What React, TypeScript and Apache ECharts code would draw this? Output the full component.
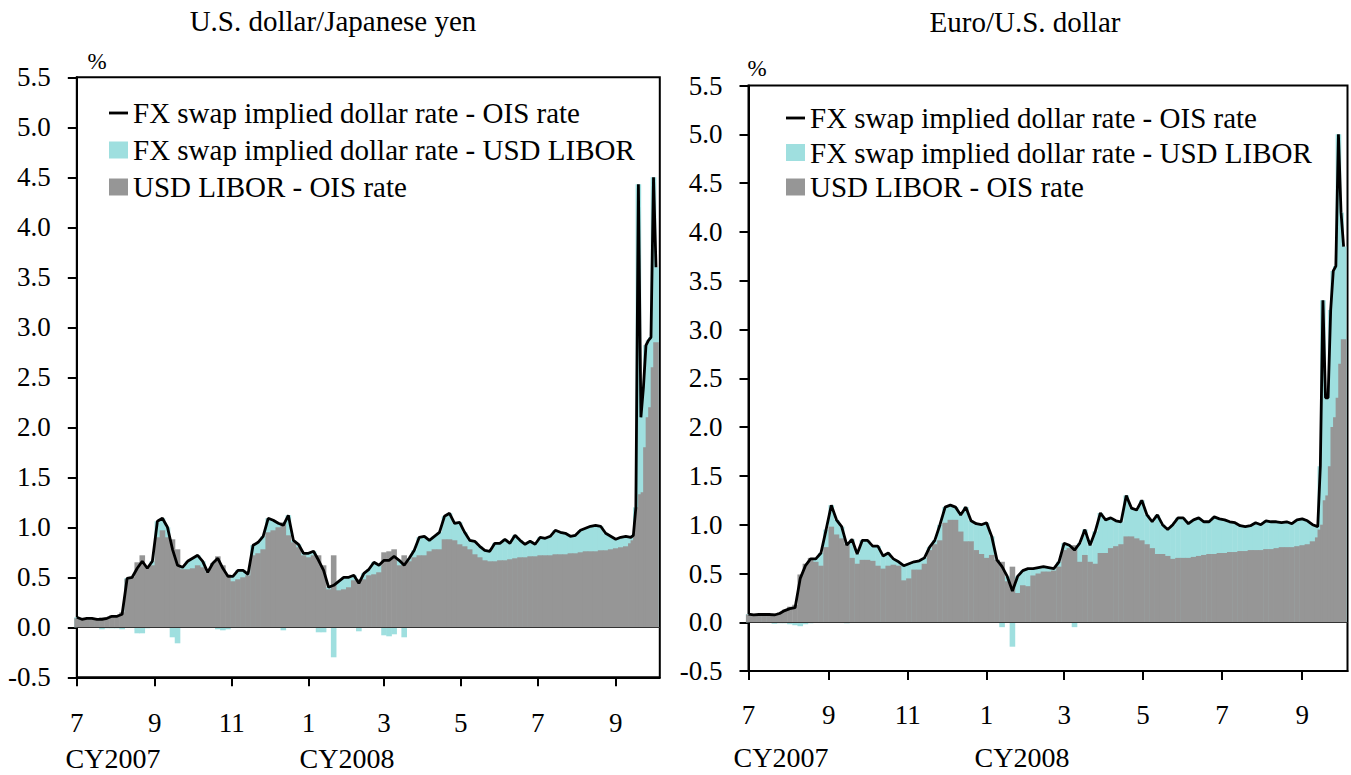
import React, { useEffect, useRef } from "react";
import * as echarts from "echarts";

const FONT = "'Liberation Serif','Times New Roman',serif";
const DAY_MS = 86400000;
const START = Date.UTC(2007, 6, 1);

// Sample dates: days since 1 Jul 2007 (every 4 days, then every 2 days at the end)
const sampleDays: number[] = [
  0, 4, 8, 12, 16, 20, 24, 28, 32, 36, 40, 44, 48, 52, 56, 60, 64, 68, 72, 76,
  80, 84, 88, 92, 96, 100, 104, 108, 112, 116, 120, 124, 128, 132, 136, 140, 144, 148, 152, 156,
  160, 164, 168, 172, 176, 180, 184, 188, 192, 196, 200, 204, 208, 212, 216, 220, 224, 228, 232, 236,
  240, 244, 248, 252, 256, 260, 264, 268, 272, 276, 280, 284, 288, 292, 296, 300, 304, 308, 312, 316,
  320, 324, 328, 332, 336, 340, 344, 348, 352, 356, 360, 364, 368, 372, 376, 380, 384, 388, 392, 396,
  400, 404, 408, 412, 416, 420, 424, 428, 432, 436, 440, 442, 444, 446, 448, 450, 452, 454, 456, 458, 460,
];

// U.S. dollar / Japanese yen
const jpyFxOis: number[] = [
  0.10, 0.08, 0.09, 0.09, 0.08, 0.08, 0.09, 0.11, 0.11, 0.13, 0.49, 0.50, 0.59, 0.66, 0.59, 0.66, 1.06, 1.09, 1.00, 0.78,
  0.62, 0.60, 0.66, 0.69, 0.72, 0.66, 0.55, 0.64, 0.69, 0.59, 0.51, 0.51, 0.57, 0.57, 0.53, 0.82, 0.85, 0.91, 1.09, 1.07,
  1.04, 1.02, 1.12, 0.87, 0.83, 0.74, 0.74, 0.76, 0.67, 0.57, 0.40, 0.42, 0.46, 0.50, 0.50, 0.52, 0.44, 0.54, 0.58, 0.65,
  0.62, 0.67, 0.67, 0.71, 0.67, 0.62, 0.69, 0.77, 0.90, 0.91, 0.87, 0.91, 0.95, 1.11, 1.14, 1.04, 1.05, 0.95, 0.87, 0.86,
  0.81, 0.77, 0.76, 0.84, 0.84, 0.88, 0.84, 0.92, 0.87, 0.83, 0.86, 0.83, 0.90, 0.89, 0.91, 0.97, 0.95, 0.94, 0.91, 0.92,
  0.97, 0.99, 1.01, 1.02, 1.01, 0.94, 0.91, 0.88, 0.90, 0.91, 0.90, 0.92, 1.20, 4.43, 2.10, 2.40, 2.82, 2.87, 2.90, 4.50, 3.60,
];
const jpyLiborOis: number[] = [
  0.09, 0.08, 0.08, 0.08, 0.08, 0.10, 0.10, 0.12, 0.12, 0.15, 0.48, 0.50, 0.65, 0.72, 0.60, 0.62, 0.90, 0.97, 0.90, 0.88,
  0.78, 0.58, 0.58, 0.59, 0.62, 0.60, 0.55, 0.64, 0.71, 0.62, 0.53, 0.46, 0.48, 0.50, 0.52, 0.72, 0.74, 0.78, 0.95, 0.97,
  1.00, 1.05, 0.92, 0.85, 0.80, 0.72, 0.70, 0.72, 0.72, 0.62, 0.38, 0.72, 0.37, 0.38, 0.40, 0.47, 0.48, 0.48, 0.52, 0.53,
  0.55, 0.75, 0.76, 0.78, 0.62, 0.72, 0.66, 0.70, 0.72, 0.72, 0.76, 0.78, 0.78, 0.88, 0.88, 0.87, 0.83, 0.81, 0.78, 0.73,
  0.70, 0.67, 0.66, 0.66, 0.67, 0.67, 0.68, 0.69, 0.70, 0.70, 0.71, 0.71, 0.72, 0.72, 0.72, 0.73, 0.73, 0.73, 0.74, 0.74,
  0.75, 0.76, 0.76, 0.76, 0.77, 0.77, 0.78, 0.79, 0.80, 0.81, 0.84, 0.87, 1.05, 1.20, 1.33, 1.35, 1.80, 2.10, 2.20, 2.60, 2.85,
];

// Euro / U.S. dollar
const eurFxOis: number[] = [
  0.085, 0.075, 0.08, 0.08, 0.08, 0.075, 0.09, 0.12, 0.14, 0.15, 0.45, 0.58, 0.65, 0.65, 0.71, 0.95, 1.20, 1.05, 0.98, 0.79,
  0.85, 0.70, 0.84, 0.84, 0.78, 0.78, 0.68, 0.71, 0.65, 0.62, 0.58, 0.60, 0.62, 0.63, 0.66, 0.77, 0.84, 1.00, 1.18, 1.20,
  1.18, 1.10, 1.18, 1.04, 1.01, 1.00, 1.02, 0.88, 0.64, 0.57, 0.47, 0.32, 0.47, 0.53, 0.55, 0.55, 0.56, 0.57, 0.56, 0.55,
  0.62, 0.81, 0.79, 0.74, 0.81, 0.95, 0.79, 0.93, 1.12, 1.05, 1.07, 1.04, 1.03, 1.30, 1.17, 1.15, 1.25, 1.10, 1.03, 1.10,
  1.00, 0.95, 1.00, 1.07, 1.07, 1.01, 1.05, 1.07, 1.03, 1.03, 1.08, 1.06, 1.05, 1.03, 1.02, 0.99, 0.98, 0.99, 1.02, 1.00,
  1.04, 1.03, 1.03, 1.02, 1.03, 1.01, 1.05, 1.06, 1.04, 1.00, 0.98, 1.60, 3.30, 2.30, 2.30, 3.20, 3.60, 3.65, 5.00, 4.20, 3.85,
];
const eurLiborOis: number[] = [
  0.08, 0.07, 0.075, 0.075, 0.075, 0.09, 0.10, 0.13, 0.16, 0.18, 0.49, 0.60, 0.66, 0.62, 0.58, 0.77, 0.98, 0.90, 0.86, 0.80,
  0.66, 0.60, 0.64, 0.64, 0.63, 0.58, 0.55, 0.58, 0.59, 0.58, 0.43, 0.45, 0.54, 0.54, 0.60, 0.74, 0.80, 0.84, 1.02, 1.05,
  1.05, 0.93, 0.83, 0.83, 0.74, 0.70, 0.66, 0.69, 0.64, 0.62, 0.42, 0.57, 0.30, 0.38, 0.37, 0.48, 0.50, 0.52, 0.52, 0.53,
  0.57, 0.74, 0.76, 0.79, 0.62, 0.69, 0.62, 0.60, 0.71, 0.71, 0.76, 0.78, 0.80, 0.88, 0.88, 0.86, 0.84, 0.80, 0.76, 0.70,
  0.70, 0.68, 0.65, 0.66, 0.66, 0.66, 0.67, 0.68, 0.69, 0.70, 0.70, 0.71, 0.71, 0.72, 0.72, 0.73, 0.73, 0.74, 0.74, 0.74,
  0.75, 0.75, 0.76, 0.77, 0.77, 0.77, 0.78, 0.79, 0.80, 0.83, 0.87, 0.95, 1.00, 1.25, 1.30, 1.60, 2.00, 2.10, 2.30, 2.65, 2.90,
];

const tickDates = ["2007-07-01", "2007-09-01", "2007-11-01", "2008-01-01", "2008-03-01", "2008-05-01", "2008-07-01", "2008-09-01"];
const tickLabels = ["7", "9", "11", "1", "3", "5", "7", "9"];
const yearLabels = ["CY2007", "CY2008"];
const panelTitles = ["U.S. dollar/Japanese yen", "Euro/U.S. dollar"];

const LINE_NAME = "FX swap implied dollar rate - OIS rate";
const CYAN_NAME = "FX swap implied dollar rate - USD LIBOR";
const GREY_NAME = "USD LIBOR - OIS rate";
const GREY = "#969696";
const CYAN = "#9fdfdf";

const tickDays = tickDates.map((s) => Math.round((Date.parse(s + "T00:00:00Z") - START) / DAY_MS));

function labelFor(v: number): string {
  const i = tickDays.findIndex((t) => Math.abs(t - v) < 0.5);
  return i >= 0 ? tickLabels[i] : "";
}

// The FX-swap-minus-LIBOR spread (total - libor) sits on top of the grey LIBOR-OIS bar
// when positive, and hangs below zero when negative. Drawn as a cyan bar behind the grey one.
function panelSeries(idx: number, total: number[], libor: number[]) {
  const greyData = sampleDays.map((d, i) => [d, libor[i]]);
  const cyanData = sampleDays.map((d, i) => {
    const spread = total[i] - libor[i];
    return [d, spread >= 0 ? total[i] : Math.round(spread * 1000) / 1000];
  });
  const lineData = sampleDays.map((d, i) => [d, total[i]]);
  return [
    {
      name: CYAN_NAME, type: "bar", xAxisIndex: idx, yAxisIndex: idx, barGap: "-100%",
      barWidth: 5.6, itemStyle: { color: CYAN }, data: cyanData,
    },
    {
      name: GREY_NAME, type: "bar", xAxisIndex: idx, yAxisIndex: idx, barGap: "-100%",
      barWidth: 5.6, itemStyle: { color: GREY }, data: greyData,
    },
    {
      name: LINE_NAME, type: "line", xAxisIndex: idx, yAxisIndex: idx, symbol: "none",
      lineStyle: { color: "#000", width: 2.8 }, itemStyle: { color: "#000" }, data: lineData,
      markLine: {
        silent: true, symbol: "none", label: { show: false },
        lineStyle: { color: "#333", width: 1, type: "solid" },
        data: [{ yAxis: 0 }],
      },
    },
  ];
}

function xAxis(idx: number, margin: number) {
  return {
    type: "value", gridIndex: idx, min: 0, max: 463,
    axisLine: { onZero: false, lineStyle: { color: "#000", width: 2 } },
    axisTick: { show: true, customValues: tickDays, length: 9, inside: false, lineStyle: { color: "#000", width: 2 } },
    axisLabel: { customValues: tickDays, formatter: (v: number) => labelFor(v), margin, fontFamily: FONT, fontSize: 27, color: "#000" },
    splitLine: { show: false },
  };
}

function yAxis(idx: number, margin: number) {
  return {
    type: "value", gridIndex: idx, min: -0.5, max: 5.5, interval: 0.5,
    axisLine: { show: true, lineStyle: { color: "#000", width: 2 } },
    axisTick: { show: true, length: 9, inside: false, lineStyle: { color: "#000", width: 2 } },
    axisLabel: { formatter: (v: number) => v.toFixed(1), margin, fontFamily: FONT, fontSize: 27, color: "#000" },
    splitLine: { show: false },
  };
}

function legend(left: number, top: number, gap: number) {
  return {
    left, top, padding: 0, orient: "vertical", itemWidth: 19, itemHeight: 17, itemGap: gap, selectedMode: false,
    textStyle: { fontFamily: FONT, fontSize: 29, color: "#000", lineHeight: 30 },
    data: [
      { name: LINE_NAME, icon: "path://M0,0H20V3H0Z" },
      { name: CYAN_NAME, icon: "rect" },
      { name: GREY_NAME, icon: "rect" },
    ],
  };
}

function txt(text: string, x: number, y: number, size: number) {
  return {
    type: "text", x, y, silent: true,
    style: { text, fill: "#000", font: `${size}px ${FONT}`, align: "center", verticalAlign: "middle" },
  };
}

export default function App() {
  const ref = useRef<HTMLDivElement>(null);
  useEffect(() => {
    if (!ref.current) return;
    const chart = echarts.init(ref.current, undefined, { renderer: "svg" });
    chart.setOption({
      animation: false,
      backgroundColor: "#fff",
      title: [
        { text: panelTitles[0], left: 333, top: 6, padding: 0, textAlign: "center", textStyle: { fontFamily: FONT, fontSize: 29, fontWeight: "normal", color: "#000" } },
        { text: panelTitles[1], left: 1025, top: 7, padding: 0, textAlign: "center", textStyle: { fontFamily: FONT, fontSize: 29, fontWeight: "normal", color: "#000" } },
      ],
      grid: [
        { left: 76.8, top: 77.3, width: 583, height: 600, show: true, borderColor: "#000", borderWidth: 2, backgroundColor: "transparent" },
        { left: 748.5, top: 85.5, width: 599, height: 585.6, show: true, borderColor: "#000", borderWidth: 2, backgroundColor: "transparent" },
      ],
      xAxis: [xAxis(0, 32), xAxis(1, 30)],
      yAxis: [yAxis(0, 26), yAxis(1, 26)],
      legend: [legend(109, 98, 7), legend(786, 103, 4.5)],
      series: [...panelSeries(0, jpyFxOis, jpyLiborOis), ...panelSeries(1, eurFxOis, eurLiborOis)],
      graphic: [
        txt("%", 97, 61, 23),
        txt("%", 757, 68, 23),
        txt(yearLabels[0], 113, 758, 28),
        txt(yearLabels[1], 347, 758, 28),
        txt(yearLabels[0], 781, 757, 28),
        txt(yearLabels[1], 1022, 757, 28),
      ],
    });
    return () => chart.dispose();
  }, []);
  return <div ref={ref} style={{ position: "absolute", left: 0, top: 0, width: 1351, height: 775 }} />;
}
